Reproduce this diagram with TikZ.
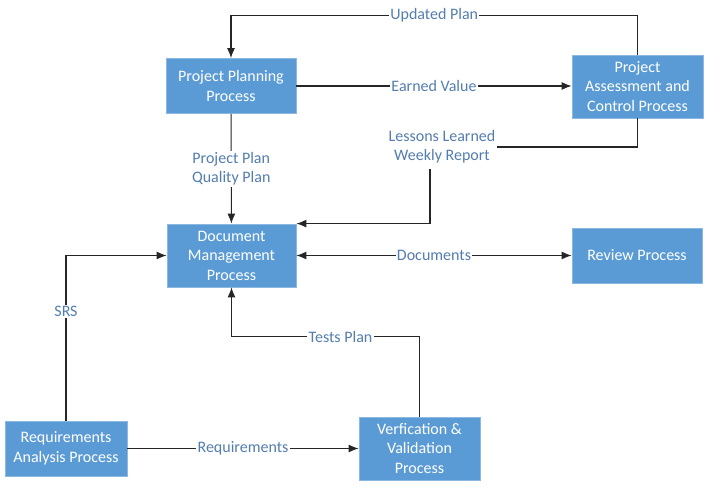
\documentclass[tikz,border=0pt]{standalone}
\usepackage{fontspec}
\setmainfont{Carlito}
\usetikzlibrary{arrows.meta}
\definecolor{boxblue}{RGB}{91,155,213}
\definecolor{lblblue}{RGB}{84,125,175}
\begin{document}
\begin{tikzpicture}[x=0.75pt,y=-0.75pt,font=\fontsize{12}{14.6}\selectfont,>={Latex[length=7.5pt,width=6pt]},
    proc/.style 2 args={draw=boxblue!70!white,line width=0.6pt,fill=boxblue,text=white,align=center,inner sep=0pt,minimum width=#1*0.75pt,minimum height=#2*0.75pt},
    flow/.style={draw=black!85,line width=0.8pt},
    lbl/.style={fill=white,text=lblblue,align=center,inner xsep=1pt,inner ysep=1pt}]
        \useasboundingbox (0,0) rectangle (708,488);
        \node[proc={130}{55}](ppp)at(231,86){Project Planning\\Process};
        \node[proc={131}{63}](pac)at(637.5,86.5){Project\\Assessment and\\Control Process};
        \node[proc={129}{63}](dm)at(231.5,255.5){Document\\Management\\Process};
        \node[proc={130}{55}](rev)at(637,255.5){Review Process};
        \node[proc={122}{55}](ra)at(66,448.5){Requirements\\Analysis Process};
        \node[proc={121}{63}](vv)at(419.5,448.5){Verfication \&\\Validation\\Process};
        \draw[flow,->](pac.north)--++(0,-39)-|node[lbl,pos=0.25]{Updated Plan}(ppp.north);
        \draw[flow,->](ppp.east)--node[lbl]{Earned Value}(ppp.east-|pac.west);
        \draw[flow,->](ppp)--node[lbl]{Project Plan\\Quality Plan}(dm);
        \coordinate(ll)at(430,147);
        \draw[flow,->](pac.south)|-(ll)|-(dm.north east);
        \node[lbl,inner ysep=4pt](llt)at(442,147){Lessons Learned\\Weekly Report};
        \draw[flow,<->](dm)--node[lbl]{Documents}(rev);
        \draw[flow,->](ra.north)|-node[lbl,pos=0.33]{SRS}(dm.west);
        \draw[flow,->](vv.north)--++(0,-80)-|node[lbl,pos=0.21]{Tests Plan}(dm.south);
        \draw[flow,->](ra)--node[lbl]{Requirements}(vv);
    \end{tikzpicture}
\end{document}
